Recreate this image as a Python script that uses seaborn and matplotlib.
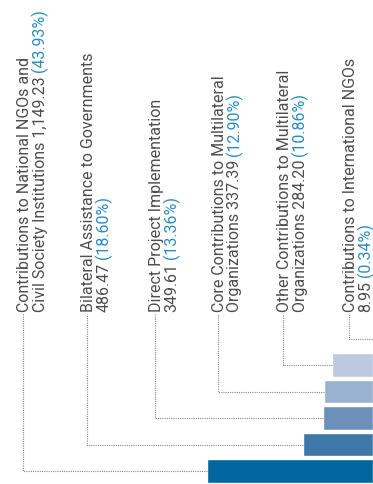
import matplotlib
matplotlib.use("Agg")
import matplotlib.pyplot as plt
import seaborn as sns

# data (values in millions, share of total)
categories = [
    "Contributions to International NGOs",
    "Other Contributions to Multilateral Organizations",
    "Core Contributions to Multilateral Organizations",
    "Direct Project Implementation",
    "Bilateral Assistance to Governments",
    "Contributions to National NGOs and Civil Society Institutions",
]
values = [8.95, 284.20, 337.39, 349.61, 486.47, 1149.23]
shares = ["0.34%", "10.86%", "12.90%", "13.36%", "18.60%", "43.93%"]
line1 = [
    "Contributions to International NGOs",
    "Other Contributions to Multilateral",
    "Core Contributions to Multilateral",
    "Direct Project Implementation",
    "Bilateral Assistance to Governments",
    "Contributions to National NGOs and",
]
line2 = [
    "8.95",
    "Organizations 284.20",
    "Organizations 337.39",
    "349.61",
    "486.47",
    "Civil Society Institutions 1,149.23",
]
bar_colors = ["#dde4f0", "#bcc9e0", "#9ab1d0", "#6d90ba", "#3d78a9", "#00679e"]

# layout (pixels)
W, H = 373, 484
leader_x = [349, 283, 218, 155, 87, 23]
leader_top = 314
pitch = 26.5
first_center = 338.5
line_gap = 15.5
fsize = 11.5
text_color = "#4d4d4d"
blue = "#2a8cc4"

sns.set_theme(style="white")
plt.rcParams["font.family"] = ["Roboto", "DejaVu Sans"]

fig = plt.figure(figsize=(W / 100, H / 100), dpi=100)
ax = fig.add_axes([0, 0, 1, 1])

sns.barplot(x=values, y=categories, hue=categories, palette=bar_colors,
            orient="h", width=0.89, saturation=1, legend=False, ax=ax)

# bars grow leftwards from the right edge
px_per_unit = 166 / max(values)
xmax = W / px_per_unit
ax.set_xlim(xmax, 0)
ytop = -first_center / pitch
ax.set_ylim(ytop + H / pitch, ytop)
ax.axis("off")


def px_to_data(px, py):
    return xmax * (1 - px / W), ytop + py / pitch


fig.canvas.draw()
renderer = fig.canvas.get_renderer()

for i, v in enumerate(values):
    lx, ty = px_to_data(leader_x[i], leader_top)
    ax.plot([v, lx, lx], [i, i, ty], color="#8a8a8a", lw=0.8,
            linestyle=(0, (1, 1)), zorder=1)

    for k, txt in enumerate([line1[i], line2[i]]):
        base_x = leader_x[i] + 6 + k * line_gap
        bx, by = px_to_data(base_x, leader_top - 2)
        t = ax.text(bx, by, txt, rotation=90, rotation_mode="anchor",
                    ha="left", va="baseline", fontsize=fsize, color=text_color)
        if k == 1:
            bb = t.get_window_extent(renderer)
            end_py = H - bb.y1
            sx, sy = px_to_data(base_x, end_py - 4)
            ax.text(sx, sy, "(" + shares[i] + ")", rotation=90,
                    rotation_mode="anchor", ha="left", va="baseline",
                    fontsize=fsize, color=blue)

fig.savefig("out.png", dpi=100)
